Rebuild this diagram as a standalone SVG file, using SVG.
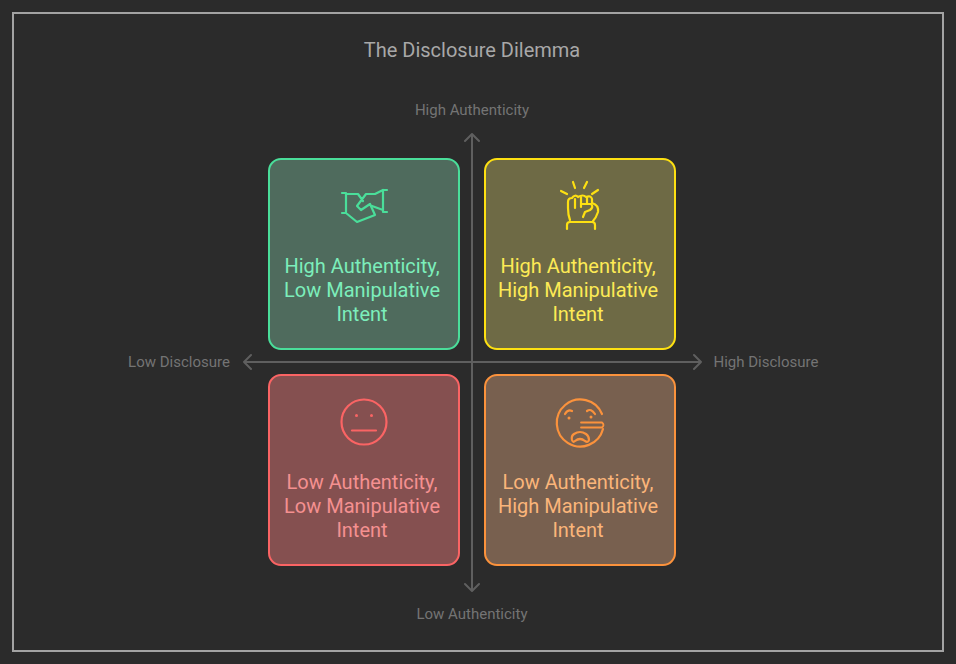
<svg xmlns="http://www.w3.org/2000/svg" width="956" height="664" viewBox="0 0 956 664">
<style>
text{font-family:Roboto,"Liberation Sans",sans-serif;text-anchor:middle}
.ax{font-size:15px;fill:#747474}
.lb{font-size:20px}
.box{stroke-width:2}
.ic{fill:none;stroke-width:2.2;stroke-linecap:round;stroke-linejoin:round}
.c{fill:none;stroke:#5f5f5f;stroke-width:2;stroke-linecap:round;stroke-linejoin:round}
</style>
<rect width="956" height="664" fill="#2b2b2b"/>
<rect id="frame" x="13" y="13" width="930" height="638" fill="none" stroke="#a3a3a3" stroke-width="2"/>
<text id="title" x="472" y="57" style="font-size:20px;fill:#a8a8a8">The Disclosure Dilemma</text>
<g id="connectors">
<path class="c" d="M472 134V590M465 141L472 134L479 141M465 584L472 591L479 584"/>
<path class="c" d="M244 362H701M251 355L244 362L251 369M694 355L701 362L694 369"/>
</g>
<g id="axis-labels">
<text class="ax" x="472" y="115">High Authenticity</text>
<text class="ax" x="472" y="619">Low Authenticity</text>
<text class="ax" x="179" y="367">Low Disclosure</text>
<text class="ax" x="766" y="367">High Disclosure</text>
</g>
<g id="node-tl">
<rect class="box" x="269" y="159" width="190" height="190" rx="12" fill="#4f6b5d" stroke="#4ade9a"/>
<g class="ic" stroke="#4ade9a">
<path d="M342 193H346V213H342M346 213L357 222L375 215L370 204L361 210L357 206L366 194H375L383 190M346 194H358L363 201"/>
<path d="M383 190H387M383 190V212M383 212H387M383 210L372 206"/>
</g>
<text class="lb" fill="#7ceebb"><tspan x="362" y="273">High Authenticity,</tspan><tspan x="362" y="297">Low Manipulative</tspan><tspan x="362" y="321">Intent</tspan></text>
</g>
<g id="node-tr">
<rect class="box" x="485" y="159" width="190" height="190" rx="12" fill="#6e6a45" stroke="#fde012"/>
<g class="ic" stroke="#fde012">
<path d="M561 191L567 194M573 182L575 188M587 182L584 188M598 190L592 194"/>
<path d="M570 220Q568 215 568 208V202Q568 198 572 198Q575 194 578 197Q583 194 586 197Q591 195 592 199V203Q599 205 598 212Q596 218 593 221"/>
<path d="M567 229V225Q567 222 570 222H592Q595 222 595 225V229"/>
<path d="M575 199V208M581 197V207M587 198V203M582 204H591Q594 207 590 210L585 212L583 217"/>
</g>
<text class="lb" fill="#fdea55"><tspan x="578" y="273">High Authenticity,</tspan><tspan x="578" y="297">High Manipulative</tspan><tspan x="578" y="321">Intent</tspan></text>
</g>
<g id="node-bl">
<rect class="box" x="269" y="375" width="190" height="190" rx="12" fill="#855050" stroke="#fa6464"/>
<g class="ic" stroke="#fa6464">
<circle cx="364" cy="422" r="22.5"/>
<path d="M352 430.500H376"/>
</g>
<g fill="#fa6464"><circle cx="356.500" cy="415.500" r="1.500"/><circle cx="371.500" cy="415.500" r="1.500"/></g>
<text class="lb" fill="#f59090"><tspan x="362" y="489">Low Authenticity,</tspan><tspan x="362" y="513">Low Manipulative</tspan><tspan x="362" y="537">Intent</tspan></text>
</g>
<g id="node-br">
<rect class="box" x="485" y="375" width="190" height="190" rx="12" fill="#78604f" stroke="#fb923c"/>
<g class="ic" stroke="#fb923c">
<path d="M602 414A23.500 23.500 0 1 0 603 429"/>
<path stroke-width="1.800" d="M581 422.500H602Q605 425 602 427.500H581"/>
<path d="M565 414Q568 409 572 411M587 411Q591 408 595 414"/>
<path d="M572 440Q571 436 574 434Q580 430 586 434Q589 436 589 440Q588 443 585 441Q580 437 575 441Q573 443 572 440Z"/>
</g>
<g fill="#fb923c"><circle cx="569" cy="418" r="1.500"/><circle cx="591" cy="417" r="1.500"/></g>
<text class="lb" fill="#fbb57a"><tspan x="578" y="489">Low Authenticity,</tspan><tspan x="578" y="513">High Manipulative</tspan><tspan x="578" y="537">Intent</tspan></text>
</g>
</svg>
